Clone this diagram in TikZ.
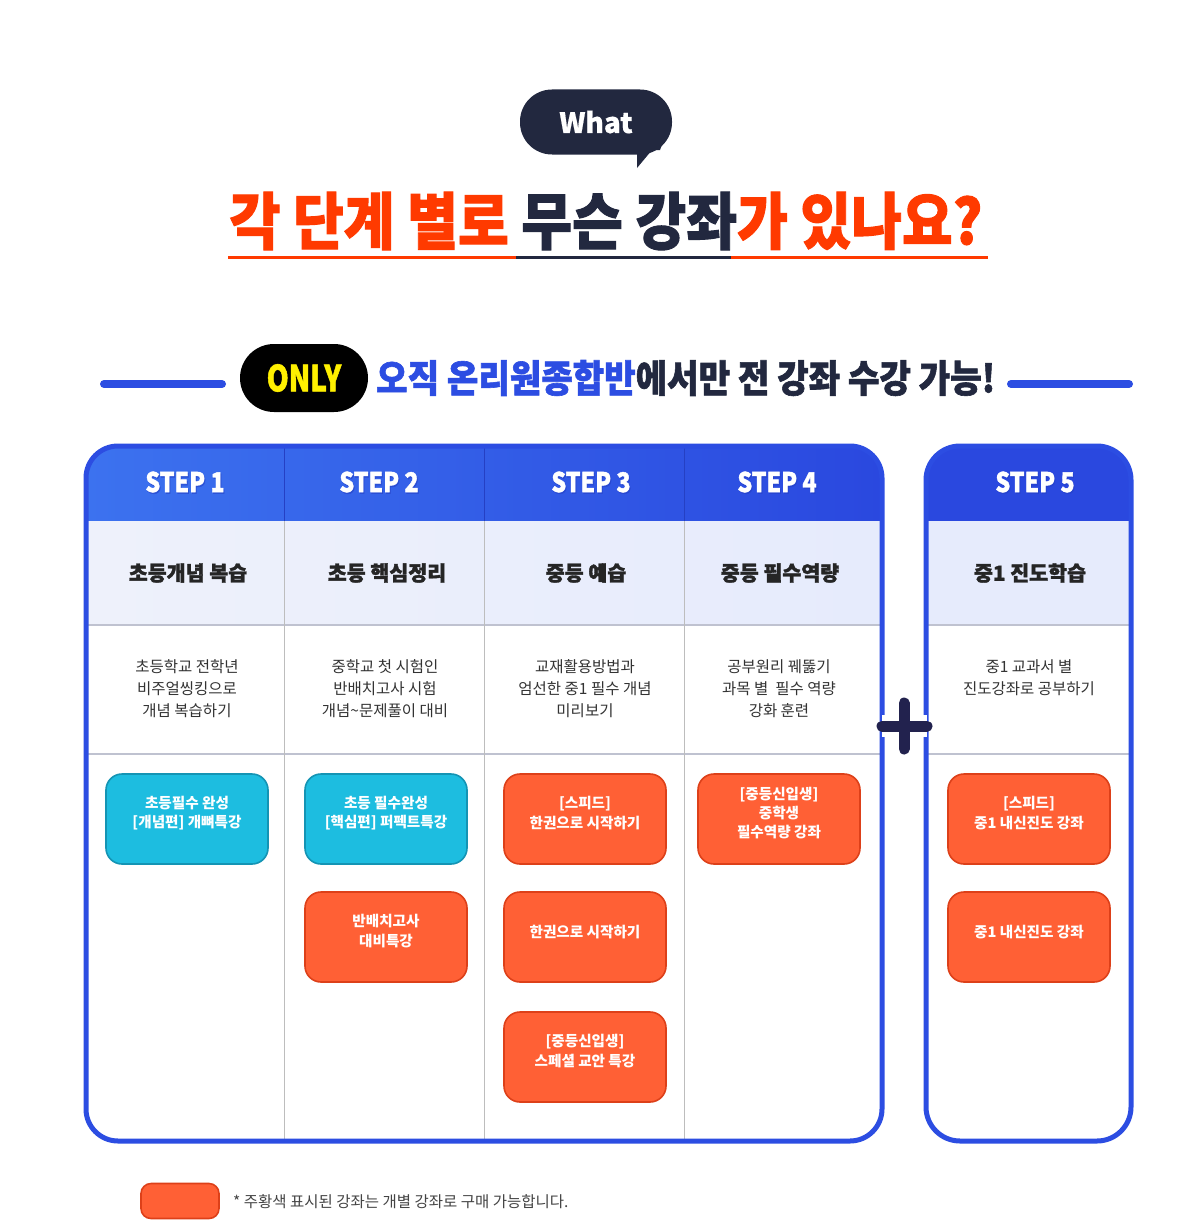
\documentclass[tikz,border=0pt]{standalone}
\usepackage{fontspec}
\setmainfont{Noto Sans CJK KR}
\newfontfamily\krh{Noto Sans CJK KR}[FakeBold=1.6]
\newfontfamily\krb{Noto Sans CJK KR}[FakeBold=0.5]
\definecolor{navy}{HTML}{22283F}
\definecolor{tred}{HTML}{FF3A00}
\definecolor{mblue}{HTML}{2C4DE2}
\definecolor{hblueL}{HTML}{3C72EF}
\definecolor{hblueR}{HTML}{2A48DF}
\definecolor{hdiv}{HTML}{2540C4}
\definecolor{lavL}{HTML}{EEF1FB}
\definecolor{lavR}{HTML}{E6EBFC}
\definecolor{cyanF}{HTML}{1DBDE0}
\definecolor{cyanD}{HTML}{1494B4}
\definecolor{orF}{HTML}{FF6035}
\definecolor{orD}{HTML}{DD4019}
\definecolor{gridg}{HTML}{BDBDBD}
\definecolor{rowline}{HTML}{BFC2D0}
\definecolor{plusc}{HTML}{22224E}
\definecolor{onlyY}{HTML}{FFF000}
\definecolor{desc}{HTML}{333333}
\definecolor{subt}{HTML}{252525}
\definecolor{legtxt}{HTML}{444444}
\tikzset{
  course/.style={draw, line width=1.6, rounded corners=16, minimum width=162, minimum height=90, inner sep=0},
  cyanbox/.style={course, fill=cyanF, draw=cyanD},
  orbox/.style={course, fill=orF, draw=orD},
  ctext/.style={text=white, align=center, font=\bfseries\fontsize{14.6}{19.5}\selectfont},
  steptext/.style={text=white, font=\krh\bfseries\fontsize{27}{27}\selectfont},
  subtitle/.style={text=subt, font=\krh\bfseries\fontsize{20.6}{20}\selectfont},
  desctext/.style={text=desc, align=center, font=\fontsize{15.5}{22}\selectfont},
  bluebar/.style={mblue, line width=8, line cap=round},
}
\begin{document}
\begin{tikzpicture}[x=1pt,y=-1pt]
\useasboundingbox[fill=white] (0,0) rectangle (1200,1220);

% speech bubble
\node[fill=navy, rounded corners=32, minimum width=152, minimum height=65, inner sep=0,
      text=white, font=\krb\bfseries\fontsize{28}{28}\selectfont] (what) at (596,122) {What};
\fill[navy] (628,150) -- (637,150) -- (637,168) -- (667,132) -- (660,150) -- cycle;

% title
\node[font=\krh\bfseries\fontsize{62}{62}\selectfont, inner sep=0] (title) at (606,221)
  {\scalebox{0.89}[1]{\textcolor{tred}{각 단계 별로 }\textcolor{navy}{무슨 강좌}\textcolor{tred}{가 있나요?}}};
\coordinate (u0) at (228,257);
\coordinate (u1) at (516,257);
\coordinate (u2) at (731,257);
\coordinate (u3) at (988,257);
\draw[tred, line width=3] (u0) -- (u1);
\draw[navy, line width=3] (u1) -- (u2);
\draw[tred, line width=3] (u2) -- (u3);

% ONLY banner
\node[fill=black, rounded corners=34, minimum width=128, minimum height=68, inner sep=0,
      text=onlyY, font=\krh\bfseries\fontsize{36}{36}\selectfont] (only) at (304,378) {\scalebox{0.78}[1]{ONLY}};
\coordinate (bl0) at (104,384);
\coordinate (bl1) at (222,384);
\coordinate (br0) at (1011,384);
\coordinate (br1) at (1129,384);
\draw[bluebar] (bl0) -- (bl1);
\draw[bluebar] (br0) -- (br1);
\node[anchor=west, inner sep=0, font=\krh\bfseries\fontsize{38}{38}\selectfont] (tag) at (376,378)
  {\scalebox{0.90}[1]{\textcolor{mblue}{오직 온리원종합반}\textcolor{navy}{에서만 전 강좌 수강 가능!}}};

% main box 1
\begin{scope}
  \clip[rounded corners=32] (86,446) rectangle (882,1141);
  \fill[left color=hblueL, right color=hblueR] (86,446) rectangle (882,521);
  \fill[left color=lavL, right color=lavR] (86,521) rectangle (882,625);
  \draw[rowline, line width=1.2] (86,625) -- (882,625);
  \draw[rowline, line width=1.2] (86,754) -- (882,754);
  \foreach \xx in {284,484,684} {
    \draw[gridg, line width=1] (\xx,521) -- (\xx,1141);
    \draw[hdiv, line width=1] (\xx,446) -- (\xx,521);
  }
\end{scope}
\draw[mblue, line width=5, rounded corners=32] (86,446) rectangle (882,1141);

% box 5
\begin{scope}
  \clip[rounded corners=34] (926,446) rectangle (1131,1141);
  \fill[hblueR] (926,446) rectangle (1131,521);
  \fill[lavR] (926,521) rectangle (1131,625);
  \draw[rowline, line width=1.2] (926,625) -- (1131,625);
  \draw[rowline, line width=1.2] (926,754) -- (1131,754);
\end{scope}
\draw[mblue, line width=5, rounded corners=34] (926,446) rectangle (1131,1141);

% plus
\coordinate (ph0) at (882,726);
\coordinate (ph1) at (927,726);
\coordinate (pv0) at (904,703);
\coordinate (pv1) at (904,749);
\draw[white, line width=22] (ph0) -- (ph1);
\draw[white, line width=22] (pv0) -- (pv1);
\draw[plusc, line width=11, line cap=round] (ph0) -- (ph1);
\draw[plusc, line width=11, line cap=round] (pv0) -- (pv1);

% step headers
\foreach \nm/\xx/\lab in {s1/185/STEP 1, s2/379/STEP 2, s3/591/STEP 3, s4/777/STEP 4, s5/1035/STEP 5} {
  \node[steptext, text=hdiv, opacity=0.5] at (\xx+1,483.5) {\scalebox{0.86}[1]{\lab}};
  \node[steptext] (\nm) at (\xx,482) {\scalebox{0.86}[1]{\lab}};
}

% subtitles
\node[subtitle] (t1) at (188,573) {초등개념 복습};
\node[subtitle] (t2) at (387,573) {초등 핵심정리};
\node[subtitle] (t3) at (586,573) {중등 예습};
\node[subtitle] (t4) at (780,573) {중등 필수역량};
\node[subtitle] (t5) at (1030,573) {중1 진도학습};

% descriptions
\node[desctext] (d1) at (187,689) {초등학교 전학년\\비주얼씽킹으로\\개념 복습하기};
\node[desctext] (d2) at (385,689) {중학교 첫 시험인\\반배치고사 시험\\개념\textasciitilde 문제풀이 대비};
\node[desctext] (d3) at (585,689) {교재활용방법과\\엄선한 중1 필수 개념\\미리보기};
\node[desctext] (d4) at (779,689) {공부원리 꿰뚫기\\과목 별\ \ 필수 역량\\강화 훈련};
\node[desctext] (d5) at (1029,678) {중1 교과서 별\\진도강좌로 공부하기};

% course boxes
\node[cyanbox] (c1a) at (187,819) {};
\node[ctext] at ([yshift=6]c1a.center) {초등필수 완성\\{[}개념편{]} 개뼈특강};
\node[cyanbox] (c2a) at (386,819) {};
\node[ctext] at ([yshift=6]c2a.center) {초등 필수완성\\{[}핵심편{]} 퍼펙트특강};
\node[orbox] (c2b) at (386,937) {};
\node[ctext] at ([yshift=6]c2b.center) {반배치고사\\대비특강};
\node[orbox] (c3a) at (585,819) {};
\node[ctext] at ([yshift=6]c3a.center) {{[}스피드{]}\\한권으로 시작하기};
\node[orbox] (c3b) at (585,937) {};
\node[ctext] at ([yshift=5]c3b.center) {한권으로 시작하기};
\node[orbox] (c3c) at (585,1057) {};
\node[ctext] at ([yshift=6]c3c.center) {{[}중등신입생{]}\\스페셜 교안 특강};
\node[orbox] (c4a) at (779,819) {};
\node[ctext, font=\bfseries\fontsize{14.6}{19}\selectfont] at ([yshift=6]c4a.center) {{[}중등신입생{]}\\중학생\\필수역량 강좌};
\node[orbox] (c5a) at (1029,819) {};
\node[ctext] at ([yshift=6]c5a.center) {{[}스피드{]}\\중1 내신진도 강좌};
\node[orbox] (c5b) at (1029,937) {};
\node[ctext] at ([yshift=5]c5b.center) {중1 내신진도 강좌};

% legend
\node[orbox, minimum width=78, minimum height=35, rounded corners=10] (leg) at (180,1201) {};
\node[anchor=west, inner sep=0, text=legtxt, font=\fontsize{15.5}{15}\selectfont] (legt) at (233,1202)
  {* 주황색 표시된 강좌는 개별 강좌로 구매 가능합니다.};
\end{tikzpicture}
\end{document}
